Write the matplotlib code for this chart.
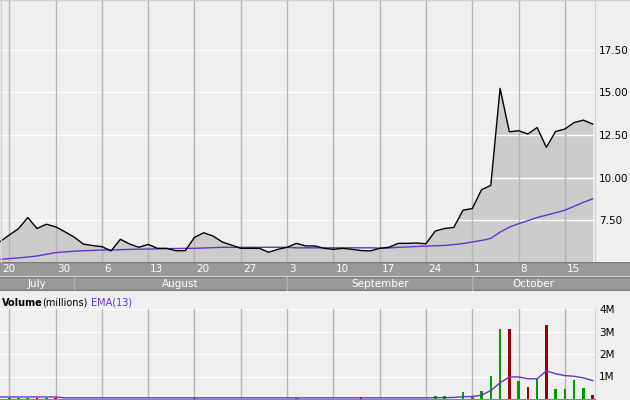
import numpy as np
import matplotlib
matplotlib.use('Agg')
import matplotlib.pyplot as plt

plt.rcParams['font.family'] = ['DejaVu Sans']

# one point per trading day, Jul 20 .. Oct 18
price = [6.26, 6.65, 7.02, 7.67, 7.03, 7.28, 7.13, 6.84, 6.53, 6.12,
         6.03, 5.97, 5.72, 6.40, 6.12, 5.93, 6.10, 5.87, 5.87, 5.73,
         5.73, 6.51, 6.78, 6.59, 6.24, 6.06, 5.87, 5.87, 5.87, 5.64,
         5.81, 5.93, 6.16, 6.01, 6.01, 5.87, 5.81, 5.87, 5.81, 5.74,
         5.72, 5.87, 5.93, 6.16, 6.16, 6.18, 6.14, 6.88, 7.03, 7.09,
         8.10, 8.20, 9.30, 9.55, 15.23, 12.69, 12.75, 12.56, 12.94, 11.78,
         12.71, 12.85, 13.23, 13.37, 13.14]
price_ema = [5.23, 5.27, 5.31, 5.36, 5.42, 5.52, 5.62, 5.66, 5.70, 5.73,
             5.75, 5.77, 5.77, 5.79, 5.81, 5.82, 5.83, 5.84, 5.85, 5.86,
             5.87, 5.87, 5.89, 5.91, 5.93, 5.93, 5.93, 5.93, 5.93, 5.93,
             5.93, 5.93, 5.90, 5.90, 5.90, 5.90, 5.90, 5.90, 5.90, 5.90,
             5.90, 5.88, 5.89, 5.93, 5.95, 5.98, 6.00, 6.02, 6.04, 6.09,
             6.15, 6.24, 6.33, 6.45, 6.82, 7.11, 7.31, 7.49, 7.67, 7.81,
             7.95, 8.10, 8.33, 8.56, 8.77]
volume = [0, 0.05, 0.05, 0.05, 0.05, 0.05, 0.05, 0, 0, 0,
          0, 0, 0, 0, 0, 0, 0, 0, 0, 0,
          0, 0.04, 0, 0, 0, 0, 0, 0, 0, 0,
          0, 0, 0.05, 0, 0, 0, 0, 0, 0, 0.08,
          0, 0, 0, 0, 0, 0, 0, 0.12, 0.12, 0,
          0.30, 0.10, 0.35, 1.04, 3.09, 3.09, 0.79, 0.52, 0.90, 3.28,
          0.45, 0.45, 0.84, 0.47, 0.20]
volume_ema = [0.09, 0.09, 0.09, 0.09, 0.09, 0.09, 0.09, 0.05, 0.05, 0.05,
              0.05, 0.05, 0.05, 0.05, 0.05, 0.05, 0.05, 0.05, 0.05, 0.05,
              0.05, 0.05, 0.05, 0.05, 0.05, 0.05, 0.05, 0.05, 0.05, 0.05,
              0.05, 0.05, 0.05, 0.05, 0.05, 0.05, 0.05, 0.05, 0.05, 0.05,
              0.05, 0.05, 0.05, 0.05, 0.05, 0.05, 0.05, 0.06, 0.06, 0.07,
              0.10, 0.11, 0.17, 0.38, 0.72, 0.98, 0.98, 0.90, 0.90, 1.25,
              1.12, 1.04, 1.01, 0.94, 0.82]

day_labels = ['20', '30', '6', '13', '20', '27', '3', '10', '17', '24', '1', '8', '15']
day_label_pos = [0, 6, 11, 16, 21, 26, 31, 36, 41, 46, 51, 56, 61]
week_lines = [1, 6, 11, 16, 21, 26, 31, 36, 41, 46, 51, 56, 61]
months = ['July', 'August', 'September', 'October']
month_start = [0, 8, 31, 51]

price_ticks = [7.5, 10.0, 12.5, 15.0, 17.5]
vol_ticks = [1, 2, 3, 4]

bg = '#efefef'
purple = '#6633cc'
xmax = 64.25            # 595 px plot width
ppd = 595 / xmax        # px per day

x = np.arange(len(price))

fig = plt.figure(figsize=(6.3, 4.0), dpi=100)
fig.patch.set_facecolor(bg)

# ---- price panel
ax1 = fig.add_axes([0, 138/400, 595/630, 262/400])
ax1.set_facecolor(bg)
ax1.fill_between(x, price, 0, color='#cccccc', lw=0, zorder=1)
for t in price_ticks:
    ax1.axhline(t, color='white', lw=1, zorder=2)
for d in week_lines:
    ax1.axvline(d, color='#b4b4b4', lw=1, zorder=2)
ax1.plot(x, price_ema, color=purple, lw=1, zorder=3)
ax1.plot(x, price, color='black', lw=1, zorder=4)
ax1.set_xlim(0, xmax)
ax1.set_ylim(5.07, 20.4)
ax1.set_xticks([])
ax1.yaxis.tick_right()
ax1.set_yticks(price_ticks, ['%.2f' % t for t in price_ticks], fontsize=7.5)
ax1.tick_params(axis='y', length=0, pad=3)
for s in ax1.spines.values():
    s.set_visible(False)
ax1.spines['right'].set_visible(True)
ax1.spines['right'].set_color('#d0d0d0')

# ---- date / month bands
axb = fig.add_axes([0, 109/400, 1, 29/400])
axb.set_xlim(0, 630 / ppd)
axb.set_ylim(291, 262)
axb.axis('off')
axb.axhspan(262, 276.5, color='#999999', lw=0)
axb.axhspan(277, 290.5, color='#999999', lw=0)
for yy in [262.5, 276.8, 290.5]:
    axb.axhline(yy, color='#7a7a7a', lw=1)
for lab, d in zip(day_labels, day_label_pos):
    axb.text(d + 2 / ppd, 269.5, lab, color='white', fontsize=7.5, ha='left', va='center')
month_end = month_start[1:] + [xmax]
for m, a, b in zip(months, month_start, month_end):
    axb.text((a + b) / 2, 284, m, color='white', fontsize=7.5, ha='center', va='center')
    if a > 0:
        axb.plot([a, a], [277.5, 290], color='#b0b0b0', lw=1)

# ---- volume panel
ax2 = fig.add_axes([0, 1/400, 595/630, 90/400])
ax2.set_facecolor(bg)
for t in vol_ticks:
    ax2.axhline(t, color='white', lw=1, zorder=1)
for d in week_lines:
    ax2.axvline(d, color='#b4b4b4', lw=1, zorder=1)
bar_colors = ['#009900'] + ['#009900' if price[i] >= price[i - 1] else '#990000' for i in range(1, len(price))]
ax2.bar(x, volume, width=0.28, color=bar_colors, zorder=2)
ax2.plot(x, volume_ema, color=purple, lw=1, zorder=3)
ax2.set_xlim(0, xmax)
ax2.set_ylim(0, 4)
ax2.set_xticks([])
ax2.yaxis.tick_right()
ax2.set_yticks(vol_ticks, ['%dM' % t for t in vol_ticks], fontsize=7.5)
ax2.tick_params(axis='y', length=0, pad=3)
for s in ax2.spines.values():
    s.set_visible(False)
ax2.spines['bottom'].set_visible(True)
ax2.spines['bottom'].set_color('#888888')
ax2.spines['right'].set_visible(True)
ax2.spines['right'].set_color('#d0d0d0')

yh = 1 - 302.5/400
fig.text(2/630, yh, 'Volume', fontsize=7, fontweight='bold', va='center')
fig.text(42/630, yh, '(millions)', fontsize=7, va='center')
fig.text(91/630, yh, 'EMA(13)', fontsize=7, color=purple, va='center')

# outer border
fig.add_artist(plt.Line2D([0, 1], [0.999, 0.999], color='#d0d0d0', lw=1))
fig.add_artist(plt.Line2D([0.001, 0.001], [0.345, 1], color='#d0d0d0', lw=1))

plt.savefig('out.png', dpi=100, facecolor=bg)
plt.close()
